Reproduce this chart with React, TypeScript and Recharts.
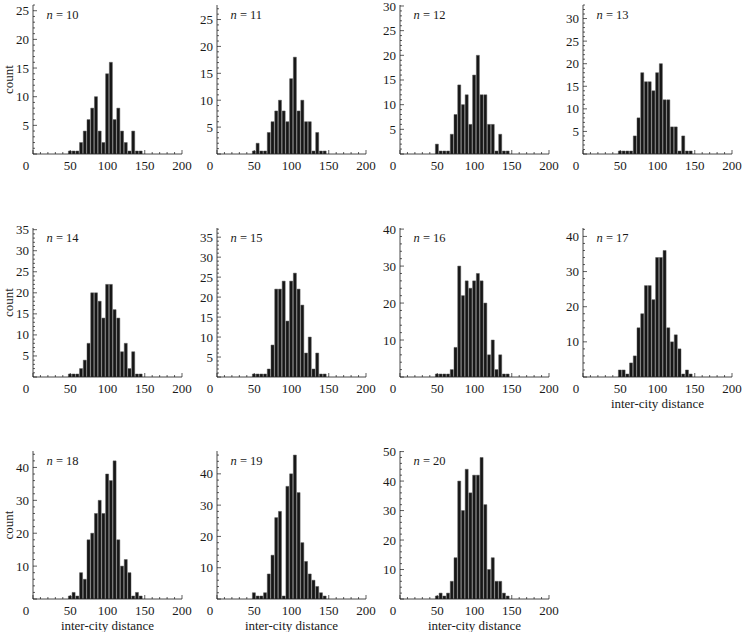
import { BarChart, Bar, XAxis, YAxis } from 'recharts'

// bin centres (width 5) shared by every histogram
const BINS = [50, 55, 60, 65, 70, 75, 80, 85, 90, 95, 100, 105, 110, 115, 120, 125, 130, 135, 140, 145]

const N10 = [0, 0, 0, 2, 4, 6, 8, 10, 4, 2, 14, 16, 6, 8, 4, 2, 0, 4, 0, 0]
const N11 = [0, 2, 0, 0, 4, 6, 8, 10, 8, 6, 14, 18, 8, 10, 6, 6, 0, 4, 0, 0]
const N12 = [2, 0, 0, 0, 4, 8, 14, 10, 12, 6, 16, 20, 12, 12, 6, 6, 0, 4, 0, 0]
const N13 = [0, 0, 0, 0, 4, 8, 18, 16, 16, 14, 18, 20, 12, 12, 6, 6, 0, 4, 0, 0]
const N14 = [0, 0, 0, 2, 4, 8, 20, 20, 18, 14, 22, 22, 16, 14, 6, 8, 2, 6, 0, 0]
const N15 = [0, 0, 0, 0, 2, 8, 22, 22, 24, 14, 24, 26, 22, 18, 6, 10, 2, 6, 0, 0]
const N16 = [0, 0, 0, 0, 2, 8, 30, 22, 26, 24, 26, 28, 26, 20, 6, 10, 2, 6, 0, 0]
const N17 = [2, 2, 0, 4, 6, 14, 18, 26, 26, 22, 34, 34, 36, 14, 10, 12, 8, 0, 2, 0]
const N18 = [0, 2, 0, 8, 6, 18, 20, 26, 30, 26, 38, 36, 42, 18, 10, 12, 8, 0, 2, 0]
const N19 = [2, 0, 0, 2, 8, 14, 26, 28, 0, 36, 40, 46, 34, 18, 12, 8, 6, 4, 2, 0]
const N20 = [0, 2, 0, 2, 6, 14, 40, 30, 44, 36, 42, 42, 48, 32, 10, 14, 6, 6, 2, 0]

const N_VALUES = [10, 11, 12, 13, 14, 15, 16, 17, 18, 19, 20]
const COUNTS = [N10, N11, N12, N13, N14, N15, N16, N17, N18, N19, N20]
const Y_MAX = [26, 27.7, 30.2, 33, 35.4, 37.3, 40.3, 42.4, 45, 47.3, 50.2]
const Y_STEP = [5, 5, 5, 5, 5, 5, 10, 10, 10, 10, 10]
const X_LABELS = [0, 50, 100, 150, 200]
const X_TITLE_ON = [17, 18, 19, 20]

// layout
const COL_X = [33.3, 216.7, 400, 583.3]
const ROW_TOP = [5, 228, 451]
const ROW_BOTTOM = [154, 377, 599]
const PLOT_W = 149
const AXIS_W = 32
const TOP_PAD = 6
const RIGHT_PAD = 14
const X_AXIS_H = 40
const FONT = 'Liberation Serif, DejaVu Serif, serif'
const INK = '#1a1a1a'

const xTicks: number[] = []
for (let v = 0; v <= 200; v += 10) xTicks.push(v)

const XTick = (props: any) => {
  const { x, y, payload } = props
  const v = payload.value
  const major = X_LABELS.includes(v)
  return (
    <g>
      <line x1={x} x2={x} y1={y} y2={y - (major ? 4 : 2)} stroke={INK} strokeWidth={0.7} />
      {major && (
        <text x={v === 0 ? x - 7 : x} y={y + 15.5} textAnchor="middle" style={{ fontFamily: FONT, fontSize: 13 }} fill={INK}>
          {v}
        </text>
      )}
    </g>
  )
}

function Panel({ idx }: { idx: number }) {
  const col = idx % 4
  const row = Math.floor(idx / 4)
  const n = N_VALUES[idx]
  const ymax = Y_MAX[idx]
  const step = Y_STEP[idx]
  const minor = step === 5 ? 1 : 2
  const plotH = ROW_BOTTOM[row] - ROW_TOP[row]
  const data = BINS.map((bin, i) => ({ bin, count: COUNTS[idx][i] }))

  const yTicks: number[] = []
  for (let v = 0; v <= ymax; v += minor) yTicks.push(v)

  const YTick = (props: any) => {
    const { x, y, payload } = props
    const v = payload.value
    const major = v % step === 0
    return (
      <g>
        <line x1={x} x2={x + (major ? 4 : 2)} y1={y} y2={y} stroke={INK} strokeWidth={0.7} />
        {major && v !== 0 && (
          <text x={x - 4} y={y + 4.5} textAnchor="end" style={{ fontFamily: FONT, fontSize: 13 }} fill={INK}>
            {v}
          </text>
        )}
      </g>
    )
  }

  const yLabel = () => (
    <g>
      {col === 0 && (
        <text
          transform={`translate(7.5, ${TOP_PAD + plotH / 2}) rotate(-90)`}
          textAnchor="middle"
          dominantBaseline="central"
          style={{ fontFamily: FONT, fontSize: 13 }}
          fill={INK}
        >
          count
        </text>
      )}
      <text x={AXIS_W + 13.5} y={TOP_PAD + 14} style={{ fontFamily: FONT, fontSize: 12.5 }} fill={INK}>
        <tspan fontStyle="italic">n</tspan> = {n}
      </text>
    </g>
  )

  const xLabel = () =>
    X_TITLE_ON.includes(n) ? (
      <text x={AXIS_W + PLOT_W / 2} y={TOP_PAD + plotH + 31} textAnchor="middle" style={{ fontFamily: FONT, fontSize: 13 }} fill={INK}>
        inter-city distance
      </text>
    ) : null

  return (
    <div style={{ position: 'absolute', left: COL_X[col] - AXIS_W, top: ROW_TOP[row] - TOP_PAD }}>
      <BarChart
        width={AXIS_W + PLOT_W + RIGHT_PAD}
        height={TOP_PAD + plotH + X_AXIS_H}
        data={data}
        margin={{ top: TOP_PAD, right: RIGHT_PAD, left: 0, bottom: 0 }}
      >
        <XAxis
          dataKey="bin"
          type="number"
          domain={[0, 200]}
          allowDataOverflow
          ticks={xTicks}
          interval={0}
          tickSize={0}
          tickMargin={0}
          tickLine={false}
          tick={<XTick />}
          height={X_AXIS_H}
          axisLine={{ stroke: INK, strokeWidth: 0.8 }}
          label={xLabel}
        />
        <YAxis
          type="number"
          domain={[0, ymax]}
          allowDataOverflow
          ticks={yTicks}
          interval={0}
          tickSize={0}
          tickMargin={0}
          tickLine={false}
          tick={<YTick />}
          width={AXIS_W}
          axisLine={{ stroke: INK, strokeWidth: 0.8 }}
          label={yLabel}
        />
        <Bar
          dataKey="count"
          barSize={3}
          fill="#161616"
          stroke="#555"
          strokeWidth={0.5}
          minPointSize={3}
          isAnimationActive={false}
        />
      </BarChart>
    </div>
  )
}

export default function App() {
  return (
    <div style={{ position: 'absolute', left: 0, top: 0, width: 742, height: 632, background: '#fff' }}>
      {N_VALUES.map((n, i) => (
        <Panel key={n} idx={i} />
      ))}
    </div>
  )
}
